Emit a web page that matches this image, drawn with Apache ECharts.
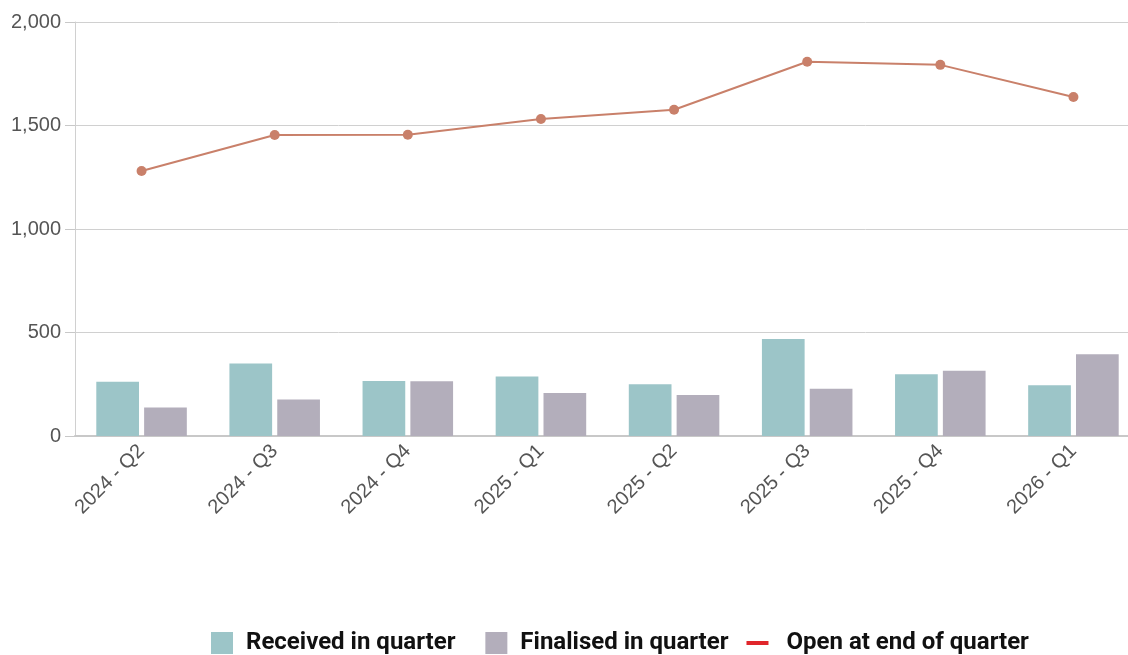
<!DOCTYPE html>
<html>
<head>
<meta charset="utf-8">
<script src="https://cdn.jsdelivr.net/npm/echarts@6/dist/echarts.min.js"></script>
<style>
  html, body { margin: 0; padding: 0; background: #fff; }
  #chart { width: 1128px; height: 655px; }
</style>
</head>
<body>
<div id="chart"></div>
<script>
// 季度
const quarters = ['2024 - Q2', '2024 - Q3', '2024 - Q4', '2025 - Q1', '2025 - Q2', '2025 - Q3', '2025 - Q4', '2026 - Q1']
const received = [262, 350, 266, 287, 250, 468, 298, 245]
const finalised = [138, 176, 265, 208, 198, 228, 315, 395]
const openAtEnd = [1280, 1454, 1455, 1531, 1576, 1808, 1793, 1638]

const chart = echarts.init(document.getElementById('chart'))
const option = {
  animation: false,
  textStyle: { fontFamily: 'Liberation Sans, Arial, sans-serif' },
  grid: { left: 75, right: -12, top: 22, bottom: 219, outerBoundsMode: 'none' },
  legend: {
    bottom: -5,
    left: 206,
    itemWidth: 22,
    itemHeight: 22,
    itemGap: 18,
    textStyle: {
      fontFamily: 'Roboto', fontWeight: 'bold', fontSize: 24, color: '#111',
      rich: { s: { fontSize: 24 } }
    },
    // 第一项后面多留一点空
    formatter: name => name === 'Received in quarter' ? name + '{s|  }' : name,
    data: [
      { name: 'Received in quarter', icon: 'rect', textStyle: { padding: [0, 0, 0, 8] } },
      { name: 'Finalised in quarter', icon: 'rect', textStyle: { padding: [0, 0, 0, 8] } },
      { name: 'Open at end of quarter', icon: 'path://M0,0 M0,9 L22,9 L22,13 L0,13 Z M22,22',
        itemStyle: { color: '#e0262b' }, textStyle: { padding: [0, 0, 0, 13] } }
    ]
  },
  xAxis: {
    type: 'category',
    data: quarters,
    axisLine: { lineStyle: { color: '#c8c8c8', width: 2 } },
    axisTick: { show: false },
    axisLabel: { rotate: 45, fontSize: 20, color: '#555', margin: 12 }
  },
  yAxis: {
    type: 'value',
    min: 0,
    max: 2000,
    interval: 500,
    axisLine: { show: true, lineStyle: { color: '#d0d0d0' } },
    axisTick: { show: true, length: 10, lineStyle: { color: '#c8c8c8' } },
    axisLabel: { fontSize: 20, color: '#555', margin: 14 },
    splitLine: { lineStyle: { color: '#d0d0d0' } }
  },
  series: [{
    name: 'Received in quarter',
    type: 'bar',
    data: received,
    barCategoryGap: '32%',
    barGap: '12%',
    itemStyle: { color: '#9cc5c8' }
  }, {
    name: 'Finalised in quarter',
    type: 'bar',
    data: finalised,
    itemStyle: { color: '#b3aebb' }
  }, {
    name: 'Open at end of quarter',
    type: 'line',
    data: openAtEnd,
    symbol: 'circle',
    symbolSize: 10,
    lineStyle: { color: '#c9806a', width: 2 },
    itemStyle: { color: '#c9806a' }
  }]
}
chart.setOption(option)
</script>
</body>
</html>
